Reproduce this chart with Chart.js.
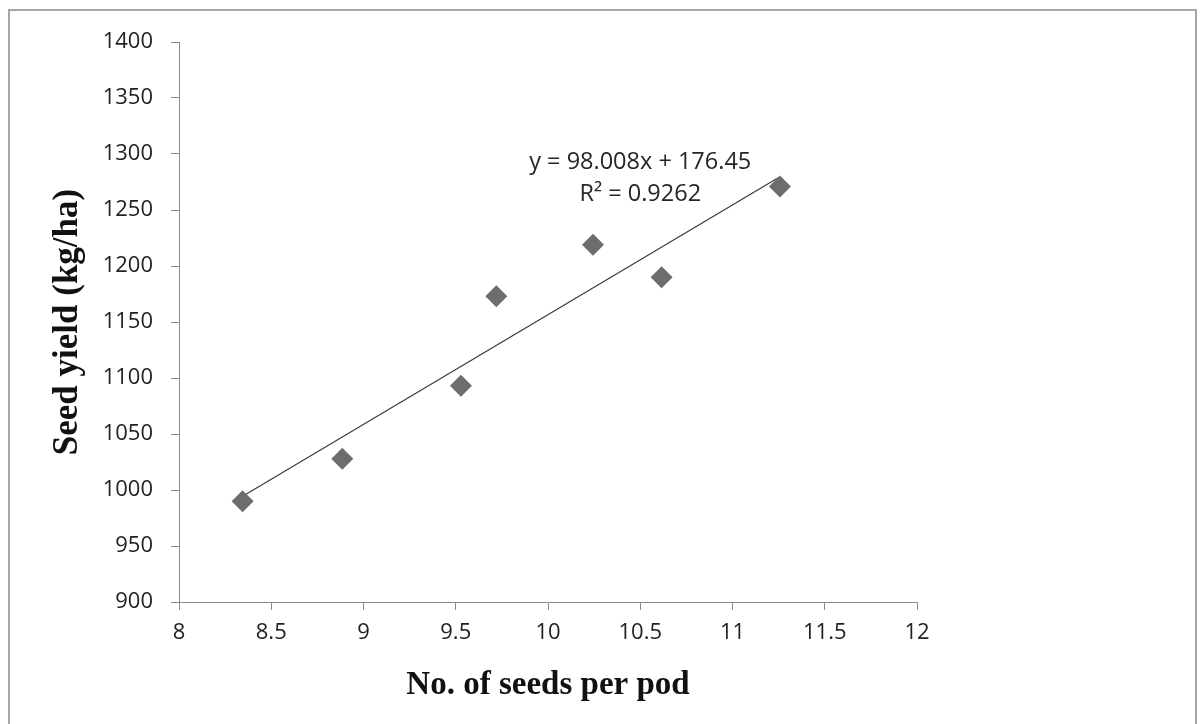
<!DOCTYPE html>
<html>
<head>
<meta charset="utf-8">
<script src="https://cdn.jsdelivr.net/npm/chart.js@4.4.1/dist/chart.umd.min.js"></script>
<style>
  html, body { margin: 0; padding: 0; background: #fff; }
  #wrap { position: relative; width: 1202px; height: 724px; overflow: hidden; }
  #frame { position: absolute; left: 8px; top: 9px; width: 1189px; height: 800px;
           border: 2px solid #a6a6a6; box-sizing: border-box; }
  #c { position: absolute; left: 0; top: 0; }
</style>
</head>
<body>
<div id="wrap">
  <div id="frame"></div>
  <canvas id="c" width="1202" height="724"></canvas>
</div>
<script>
// values
const seedsPerPod = [8.345, 8.885, 9.528, 9.72, 10.244, 10.616, 11.257];
const seedYield = [990, 1028, 1093, 1173, 1219, 1190, 1271];

// trendline shown on the chart
const slope = 98.008;
const intercept = 176.45;
const eqText = "y = 98.008x + 176.45";
const r2Text = "R² = 0.9262";

const xMinTick = 8, xMaxTick = 12, xStep = 0.5;
const yMinTick = 900, yMaxTick = 1400, yStep = 50;

const xLo = Math.min(...seedsPerPod);
const xHi = Math.max(...seedsPerPod);
const trend = [
  { x: xLo, y: slope * xLo + intercept },
  { x: xHi, y: slope * xHi + intercept }
];

const points = seedsPerPod.map((v, i) => ({ x: v, y: seedYield[i] }));

// writes the equation + R² above the line, near the top end
const eqLabel = {
  id: "eqLabel",
  afterDatasetsDraw(chart) {
    const ctx = chart.ctx;
    const xs = chart.scales.x, ys = chart.scales.y;
    const cx = xs.getPixelForValue(10.5);
    const cy = ys.getPixelForValue(1293);
    ctx.save();
    ctx.fillStyle = "#262626";
    ctx.font = "23.5px 'Open Sans'";
    ctx.textAlign = "center";
    ctx.textBaseline = "middle";
    ctx.fillText(eqText, cx, cy);
    ctx.fillText(r2Text, cx, cy + 32);
    ctx.restore();
  }
};

const tickFont = { family: "'Open Sans'", size: 22 };
const titleFont = { family: "'Liberation Serif'", size: 33, weight: "bold" };

new Chart("c", {
  type: "scatter",
  data: {
    datasets: [{
      data: trend,
      type: "line",
      borderColor: "#3a3a3a",
      borderWidth: 1.2,
      pointRadius: 0,
      fill: false,
      order: 2
    }, {
      data: points,
      pointStyle: "rectRot",
      pointRadius: 11,
      backgroundColor: "#6d6d6d",
      borderColor: "#6d6d6d",
      borderWidth: 0,
      order: 1
    }]
  },
  options: {
    responsive: false,
    animation: false,
    layout: { padding: { left: 0, top: 42, right: 285, bottom: 0 } },
    plugins: {
      legend: { display: false },
      tooltip: { enabled: false }
    },
    scales: {
      x: {
        type: "linear",
        min: xMinTick, max: xMaxTick,
        afterFit: (s) => { s.height = 122; },
        border: { color: "#8c8c8c", width: 1 },
        grid: { drawOnChartArea: false, color: "#8c8c8c", tickLength: 8 },
        ticks: { stepSize: xStep, color: "#222", font: tickFont, padding: 10, maxRotation: 0,
                 callback: (v) => String(v) },
        title: { display: true, text: "No. of seeds per pod", color: "#111",
                 font: titleFont, padding: { top: 0, bottom: 19 } }
      },
      y: {
        min: yMinTick, max: yMaxTick,
        afterFit: (s) => { s.width = 179; },
        border: { color: "#8c8c8c", width: 1 },
        grid: { drawOnChartArea: false, color: "#8c8c8c", tickLength: 8 },
        ticks: { stepSize: yStep, color: "#222", font: tickFont, padding: 18,
                 callback: (v) => String(v) },
        title: { display: true, text: "Seed yield (kg/ha)", color: "#111",
                 font: { family: "'Liberation Serif'", size: 35, weight: "bold" },
                 padding: { top: 47, bottom: 0 } }
      }
    }
  },
  plugins: [eqLabel]
});
</script>
</body>
</html>
